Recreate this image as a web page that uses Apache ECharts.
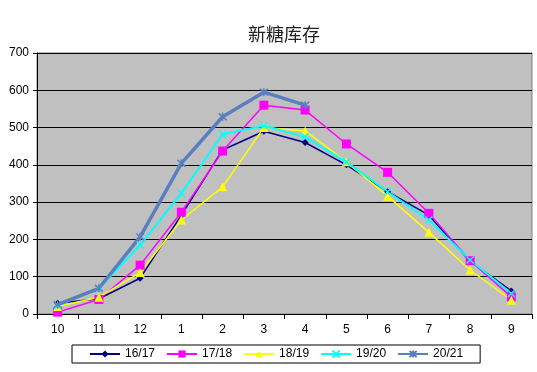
<!DOCTYPE html>
<html><head><meta charset="utf-8">
<script src="https://cdn.jsdelivr.net/npm/echarts@6/dist/echarts.min.js"></script>
<style>html,body{margin:0;padding:0;background:#fff}#c{width:537px;height:372px}</style>
</head><body><div id="c"></div>
<script>
const categories = ['10','11','12','1','2','3','4','5','6','7','8','9'];
const s1617 = [29, 41, 96, 265, 440, 490, 460, 400, 328, 265, 141, 62];
const s1718 = [5, 39, 131, 273, 437, 560, 547, 456, 380, 270, 143, 46];
const s1819 = [20, 45, 111, 252, 341, 500, 491, 408, 316, 219, 118, 37];
const s1920 = [23, 68, 185, 324, 482, 505, 475, 408, 328, 252, 145, 55];
const s2021 = [25, 69, 207, 404, 529, 595, 560, null, null, null, null, null];
const yTicks = [0, 100, 200, 300, 400, 500, 600, 700];

const XPATH = 'path://M0,0L10,10M10,0L0,10';
const STAR = 'path://M0,0L10,10M10,0L0,10M5,-1L5,11';
const font = 'Liberation Sans, DejaVu Sans, sans-serif';

function mk(name, data, color, symbol, size, width, stroke) {
  return {
    name, type: 'line', data, symbol, symbolSize: size,
    showSymbol: true, connectNulls: false,
    lineStyle: { color, width },
    itemStyle: stroke ? { color: 'rgba(0,0,0,0)', borderColor: color, borderWidth: 1.5 } : { color, borderWidth: 0 },
    emphasis: { disabled: true }
  };
}

const chart = echarts.init(document.getElementById('c'), null, { renderer: 'canvas' });
chart.setOption({
  animation: false,
  title: { text: '新糖库存', left: 243, top: 20,
    textStyle: { fontFamily: 'Noto Sans CJK SC', fontSize: 18, fontWeight: 'normal', color: '#222' } },
  grid: { left: 37, right: 5, top: 53, bottom: 58, show: true, backgroundColor: '#c0c0c0', borderColor: '#808080', borderWidth: 1 },
  legend: {
    left: 72, top: 345,
    borderColor: '#000', borderWidth: 1, padding: [3, 17, 3, 17],
    itemGap: 11, itemWidth: 30, itemHeight: 9,
    textStyle: { fontFamily: font, fontSize: 12, color: '#000' },
    data: ['16/17', '17/18', '18/19', '19/20', '20/21']
  },
  xAxis: {
    type: 'category', data: categories, boundaryGap: true,
    axisLine: { lineStyle: { color: '#000', width: 1 } },
    axisTick: { show: true, length: 5, lineStyle: { color: '#000' } },
    axisLabel: { fontFamily: font, fontSize: 12, color: '#000', margin: 10 }
  },
  yAxis: {
    type: 'value', min: yTicks[0], max: yTicks[yTicks.length - 1], interval: 100,
    axisLine: { show: true, lineStyle: { color: '#000', width: 1 } },
    axisTick: { show: true, length: 4, lineStyle: { color: '#000' } },
    splitLine: { lineStyle: { color: '#000', width: 1 } },
    axisLabel: { fontFamily: font, fontSize: 12, color: '#000', margin: 8 }
  },
  series: [
    mk('16/17', s1617, '#000080', 'diamond', 7, 1.5, false),
    mk('17/18', s1718, '#ff00ff', 'rect', 9, 1.5, false),
    mk('18/19', s1819, '#ffff00', 'triangle', 9, 1.5, false),
    mk('19/20', s1920, '#00ffff', XPATH, 7, 2, true),
    mk('20/21', s2021, '#5a7fbf', STAR, 8, 3.5, true)
  ]
});
</script></body></html>
